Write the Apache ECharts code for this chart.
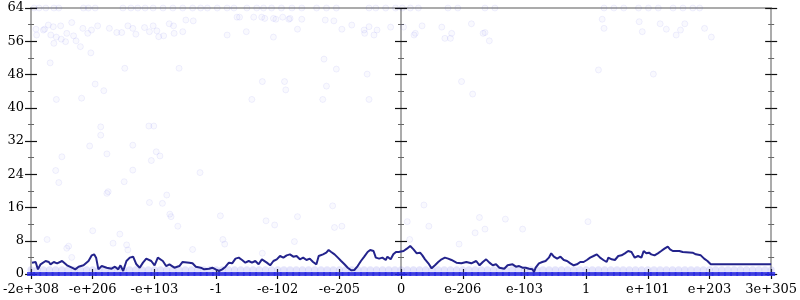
<!DOCTYPE html>
<html><head><meta charset="utf-8">
<script src="https://cdn.jsdelivr.net/npm/echarts@6/dist/echarts.min.js"></script>
<style>html,body{margin:0;padding:0;background:#fff}#c{width:800px;height:300px}</style>
</head><body><div id="c"></div>
<script>
// x axis tick labels (positions 0..12)
const xTickLabels = ['-2e+308','-e+206','-e+103','-1','-e-102','-e-205','0','e-206','e-103','1','e+101','e+203','3e+305'];

// running line (x in tick units, y value)
const lineX = [0.016,0.075,0.112,0.155,0.236,0.289,0.316,0.369,0.423,0.503,0.584,0.664,0.717,0.771,0.851,0.932,0.985,1.023,1.055,1.092,1.146,1.226,1.307,1.360,1.414,1.450,1.494,1.547,1.601,1.655,1.708,1.762,1.815,1.869,1.949,2.003,2.056,2.083,2.137,2.190,2.244,2.324,2.405,2.458,2.565,2.618,2.672,2.752,2.806,2.887,
2.940,2.993,3.047,3.100,3.154,3.208,3.261,3.315,3.368,3.422,3.475,3.529,3.582,3.636,3.690,3.743,3.770,3.823,3.877,3.930,3.984,4.037,4.091,4.145,4.198,4.252,4.305,4.359,4.412,4.466,4.519,4.573,4.627,4.664,4.734,4.787,4.825,4.867,4.921,4.975,5.028,5.082,5.135,5.189,5.242,5.296,5.349,5.403,5.457,5.499,5.553,5.590,5.644,5.697,5.751,5.778,5.831,5.874,5.917,
5.960,6.040,6.094,6.148,6.201,6.254,6.308,6.345,6.388,6.442,6.495,6.549,6.602,6.656,6.710,6.763,6.817,6.897,6.977,7.058,7.138,7.218,7.272,7.325,7.379,7.432,7.486,7.539,7.593,7.673,7.727,7.807,7.861,7.914,7.968,8.021,8.075,8.129,8.155,8.182,8.235,8.289,8.343,8.396,8.434,8.477,8.530,8.584,8.638,8.691,8.744,8.798,8.851,8.905,8.959,9.012,9.065,
9.120,9.173,9.226,9.280,9.333,9.360,9.414,9.467,9.521,9.574,9.628,9.681,9.708,9.735,9.788,9.842,9.896,9.933,9.976,10.019,10.056,10.109,10.163,10.217,10.270,10.324,10.361,10.405,10.511,10.565,10.726,10.779,10.859,10.913,10.967,11.020,12];
const lineY = [2.73,2.89,1.12,2.33,3.13,2.89,2.33,2.89,2.57,3.13,2.09,1.52,1.12,1.76,2.09,3.13,4.49,4.73,3.93,1.12,1.92,1.52,1.28,1.76,1.12,2.09,0.72,3.13,3.93,4.17,2.33,1.52,2.73,3.69,3.13,2.09,3.93,4.33,3.13,1.92,2.33,1.52,1.92,2.89,2.73,2.57,1.76,1.52,1.12,1.28,
1.52,1.12,0.72,1.12,1.76,2.73,2.57,3.69,3.93,3.37,2.73,3.13,2.73,3.13,2.33,3.53,3.93,2.73,2.09,3.13,3.53,4.33,3.93,4.49,4.73,4.17,4.33,3.53,3.93,3.37,3.69,2.89,2.33,4.33,4.73,5.13,5.77,5.29,4.73,3.93,3.13,2.33,1.52,0.88,0.96,1.92,3.13,4.17,5.29,5.77,5.53,3.93,3.69,3.93,3.37,4.17,3.53,4.73,5.29,
5.29,5.53,6.09,6.74,5.93,4.97,5.13,4.49,3.53,2.57,1.36,2.09,2.89,3.53,3.93,3.69,3.37,2.73,2.57,2.89,2.57,3.13,2.09,2.89,3.53,2.73,2.09,2.33,1.52,1.28,2.09,2.33,1.76,1.92,1.52,1.52,1.28,1.12,0.48,1.52,2.57,2.89,3.13,3.93,4.97,4.17,3.69,4.17,3.37,3.13,2.57,2.09,2.33,2.89,2.89,3.37,3.93,
4.33,4.73,3.93,3.37,2.89,3.93,3.53,3.37,4.33,4.49,4.97,5.53,5.93,5.29,3.93,4.33,3.93,5.53,4.97,5.13,4.73,4.49,4.97,5.53,6.09,6.58,5.93,5.53,5.53,5.29,5.13,4.73,4.49,3.69,3.13,2.33,2.33];

// scattered samples
const scatterX = [0.08,0.09,0.20,0.22,0.28,0.32,0.36,0.37,0.41,0.48,0.49,0.56,0.58,0.66,0.69,0.73,0.80,0.84,0.92,0.97,0.98,1.08,1.04,1.18,0.31,0.41,0.82,1.27,1.39,1.47,1.57,1.65,1.70,1.84,1.92,1.98,2.04,2.07,2.15,2.24,2.31,2.32,2.46,2.51,2.63,1.52,2.40,
3.18,3.34,3.38,3.49,3.61,3.74,3.79,3.93,3.97,4.08,4.18,4.20,4.39,3.93,4.32,4.77,4.91,5.04,5.20,5.40,5.41,5.48,5.56,5.61,5.83,6.04,6.21,6.23,6.34,6.66,6.71,6.80,6.82,7.14,7.33,7.36,7.43,4.75,4.95,5.45,3.75,4.11,4.13,4.79,6.98,7.16,3.58,4.73,5.48,
9.26,9.29,9.86,9.91,10.20,10.30,10.46,10.53,10.60,10.92,11.03,9.20,10.09,
1.13,1.13,1.91,1.99,0.95,1.65,1.23,0.50,2.03,2.09,1.95,0.40,1.65,2.74,0.45,1.51,1.23,1.25,2.20,
0.26,0.61,0.58,0.66,1.00,1.33,1.44,1.55,1.57,1.92,2.13,2.25,2.27,2.38,2.62,
3.07,3.81,3.95,4.32,4.89,4.92,5.04,3.11,3.14,4.27,3.75,
6.37,6.10,6.45,7.27,7.69,7.20,7.36,7.97,9.03,6.94,6.14];
const scatterY = [58.9,57.5,58.7,58.9,59.9,57.5,59.5,55.5,57.0,59.7,56.5,55.9,57.9,60.5,57.3,56.1,54.7,59.1,57.9,53.2,58.7,59.7,45.7,44.1,50.8,42.0,42.3,59.1,58.1,58.1,59.7,59.1,57.7,59.3,58.3,59.7,58.5,57.1,57.3,60.2,59.7,57.9,58.3,61.1,60.9,49.5,49.5,
57.5,61.8,61.8,58.3,61.8,61.8,61.5,61.5,61.3,61.8,61.3,61.5,61.3,57.0,58.9,61.1,60.9,58.9,59.9,58.7,57.9,59.5,57.5,58.7,59.4,59.4,57.5,57.9,59.7,59.4,56.7,56.7,57.9,60.2,57.9,58.1,56.1,51.7,49.3,48.1,46.3,46.3,44.3,45.2,46.3,43.3,42.0,42.0,42.0,
61.3,59.1,60.7,58.3,60.2,58.9,57.5,58.7,60.2,59.1,57.0,49.1,48.1,
35.4,33.4,35.6,35.6,30.8,31.0,28.9,28.2,29.4,28.4,27.3,24.9,25.0,24.4,22.0,22.2,19.4,19.8,19.0,
8.3,6.7,6.2,4.0,10.4,7.4,9.6,7.0,5.8,17.2,17.0,14.4,13.8,11.5,5.9,
14.0,12.8,11.8,13.8,16.4,11.2,11.5,8.3,7.2,7.8,5.0,
16.6,12.6,11.5,13.6,13.2,9.9,10.8,10.8,12.6,7.2,8.3];

// samples sitting on the ceiling (value 64)
const topX = [0.05,0.13,0.24,0.37,0.45,0.85,0.93,1.04,1.49,1.62,1.73,1.85,1.98,2.14,2.30,2.46,2.62,2.75,2.86,3.02,3.18,3.29,3.50,3.66,3.77,3.90,4.06,4.23,4.39,4.63,4.79,4.95,5.48,5.59,5.75,5.91,6.02,6.15,6.28,6.76,6.92,7.36,7.52,9.29,9.45,9.61,9.85,10.01,10.17,10.41,10.57,10.73,10.84];
const topValue = 64;

// dense floor samples (values 0 and 1) across the whole range
const bandX = [0,0.1,0.2,0.3,0.4,0.5,0.6,0.7,0.8,0.9,1,1.1,1.2,1.3,1.4,1.5,1.6,1.7,1.8,1.9,2,2.1,2.2,2.3,2.4,2.5,2.6,2.7,2.8,2.9,3,3.1,3.2,3.3,3.4,3.5,3.6,3.7,3.8,3.9,4,4.1,4.2,4.3,4.4,4.5,4.6,4.7,4.8,4.9,5,5.1,5.2,5.3,5.4,5.5,5.6,5.7,5.8,5.9,6,6.1,6.2,6.3,6.4,6.5,6.6,6.7,6.8,6.9,7,7.1,7.2,7.3,7.4,7.5,7.6,7.7,7.8,7.9,8,8.1,8.2,8.3,8.4,8.5,8.6,8.7,8.8,8.9,9,9.1,9.2,9.3,9.4,9.5,9.6,9.7,9.8,9.9,10,10.1,10.2,10.3,10.4,10.5,10.6,10.7,10.8,10.9,11,11.1,11.2,11.3,11.4,11.5,11.6,11.7,11.8,11.9,12];
const floorValue = 0;
const lowValue = 1;

const FONT = 'DejaVu Serif';
const AX = '#ababab';

function yAx(grid, pos, inside, labels) {
  return {
    gridIndex: grid, type: 'value', min: 0, max: 64, interval: 8, position: pos,
    axisLine: {show: true, onZero: false, lineStyle: {color: AX, width: 2}},
    axisTick: {show: true, inside: inside, length: 6, lineStyle: {color: '#111', width: 1.2}},
    minorTick: {show: true, splitNumber: 2, length: 3, lineStyle: {color: '#666', width: 1}},
    axisLabel: {show: labels, color: '#000', fontFamily: FONT, fontSize: 13, margin: 7},
    splitLine: {show: false}
  };
}
function xAx(grid, pos, inside, labels, ticks, line, min, max) {
  return {
    gridIndex: grid, type: 'value', min: min, max: max, interval: 1, position: pos,
    axisLine: {show: line, onZero: false, lineStyle: {color: AX, width: 2}},
    axisTick: {show: ticks, inside: inside, length: 5, lineStyle: {color: '#111', width: 1.2}},
    axisLabel: {show: labels, color: '#000', fontFamily: FONT, fontSize: 13, margin: 9,
      formatter: v => xTickLabels[Math.round(v)]},
    splitLine: {show: false}
  };
}

const chart = echarts.init(document.getElementById('c'), null, {renderer: 'canvas'});
chart.setOption({
  animation: false,
  backgroundColor: '#fff',
  grid: [
    {left: 27, right: 26, top: 8, bottom: 26, containLabel: false},
    {left: 401, right: 26, top: 8, bottom: 26, containLabel: false}
  ],
  xAxis: [
    xAx(0, 'bottom', false, true, true, true, 0, 12),
    xAx(0, 'bottom', true, false, true, true, 0, 12),
    xAx(0, 'top', false, false, false, true, 0, 12),
    xAx(1, 'bottom', false, false, false, false, 6, 12)
  ],
  yAxis: [
    yAx(0, 'left', false, true), yAx(0, 'left', true, false),
    yAx(0, 'right', false, false), yAx(0, 'right', true, false),
    yAx(1, 'left', false, false), yAx(1, 'left', true, false)
  ],
  series: [
    {type: 'scatter', clip: false, symbol: 'circle', symbolSize: 7,
     itemStyle: {color: 'rgba(100,100,235,0.22)', borderWidth: 0},
     data: bandX.map(x => [x, lowValue]), z: 2},
    {type: 'scatter', clip: false, symbol: 'rect', symbolSize: [8, 4],
     itemStyle: {color: '#2626e6', borderWidth: 0},
     data: bandX.map(x => [x, floorValue]), z: 2},
    {type: 'scatter', clip: false, symbol: 'circle', symbolSize: 6,
     itemStyle: {color: 'rgba(60,60,230,0.04)', borderColor: 'rgba(60,60,230,0.09)', borderWidth: 1},
     data: scatterX.map((x, i) => [x, scatterY[i]]).concat(topX.map(x => [x, topValue])), z: 2},
    {type: 'line', showSymbol: false, symbol: 'none',
     lineStyle: {color: '#23238c', width: 2}, z: 5,
     data: lineX.map((x, i) => [x, lineY[i]])}
  ]
});
</script></body></html>
